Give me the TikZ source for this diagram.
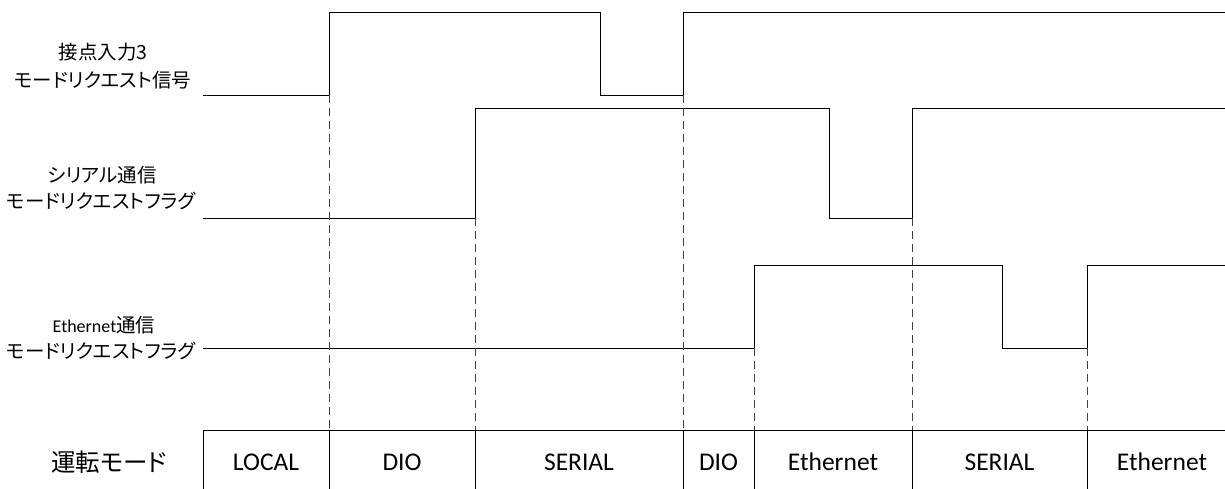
\documentclass[tikz,border=0pt]{standalone}
\usepackage{fontspec}
\newfontfamily\jp{Noto Sans CJK JP}[RawFeature={+palt}]
\newfontfamily\lat{Carlito}
\tikzset{
  sig/.style={line width=0.8pt, black},
  guide/.style={line width=0.8pt, black!75, dash pattern=on 8pt off 5pt},
  rowline/.style={line width=0.8pt, black},
  lbl/.style={font=\jp\fontsize{19.5}{22}\selectfont, align=center, inner sep=0pt},
  big/.style={font=\jp\fontsize{24.5}{28}\selectfont, inner sep=0pt},
  mode/.style={font=\lat\fontsize{25.5}{30}\selectfont, inner sep=0pt},
}
\begin{document}
\begin{tikzpicture}[x=1pt,y=-1pt]
\useasboundingbox (0,0) rectangle (1225,489);
% signal edge coordinates
\coordinate (a0) at (203,95);
\coordinate (a1) at (329,95);
\coordinate (a2) at (600,95);
\coordinate (a3) at (683,95);
\coordinate (b0) at (203,218);
\coordinate (b1) at (475,218);
\coordinate (b2) at (829,218);
\coordinate (b3) at (912,218);
\coordinate (c0) at (203,348);
\coordinate (c1) at (754,348);
\coordinate (c2) at (1002,348);
\coordinate (c3) at (1087,348);
% mode row
\coordinate (r0) at (203,430);
\coordinate (r1) at (329,430);
\coordinate (r2) at (475,430);
\coordinate (r3) at (683,430);
\coordinate (r4) at (754,430);
\coordinate (r5) at (912,430);
\coordinate (r6) at (1087,430);
\coordinate (r7) at (1225,430);
% signals
\draw[sig] (a0) -- (a1) -- (329,12) -- (600,12) -- (a2) -- (a3) -- (683,12) -- (1225,12);
\draw[sig] (b0) -- (b1) -- (475,108) -- (829,108) -- (b2) -- (b3) -- (912,108) -- (1225,108);
\draw[sig] (c0) -- (c1) -- (754,265) -- (1002,265) -- (c2) -- (c3) -- (1087,265) -- (1225,265);
% guides
\draw[guide] (a1) -- (r1);
\draw[guide] (b1) -- (r2);
\draw[guide] (a3) -- (r3);
\draw[guide] (c1) -- (r4);
\draw[guide] (b3) -- (r5);
\draw[guide] (c3) -- (r6);
% mode row lines
\draw[rowline] (r0) -- (r7);
\foreach \i in {0,...,6} { \draw[rowline] (r\i) -- ++(0,59); }
% labels
\node[lbl] (l1a) at (103,52) {接点入力3};
\node[lbl] (l1b) at (103,80) {モードリクエスト信号};
\node[lbl] (l2a) at (102,175) {シリアル通信};
\node[lbl] (l2b) at (101,201) {モードリクエストフラグ};
\node[lbl] (l3a) at (104,325) {{\lat\fontsize{18}{20}\selectfont Ethernet}通信};
\node[lbl] (l3b) at (101,351) {モードリクエストフラグ};
\node[big] (lm) at (109,462) {運転モード};
% modes
\node[mode] (m1) at (266,462) {LOCAL};
\node[mode] (m2) at (402,462) {DIO};
\node[mode] (m3) at (579,462) {SERIAL};
\node[mode] (m4) at (718.5,462) {DIO};
\node[mode] (m5) at (833,462) {Ethernet};
\node[mode] (m6) at (999.5,462) {SERIAL};
\node[mode] (m7) at (1162,462) {Ethernet};
\end{tikzpicture}
\end{document}
